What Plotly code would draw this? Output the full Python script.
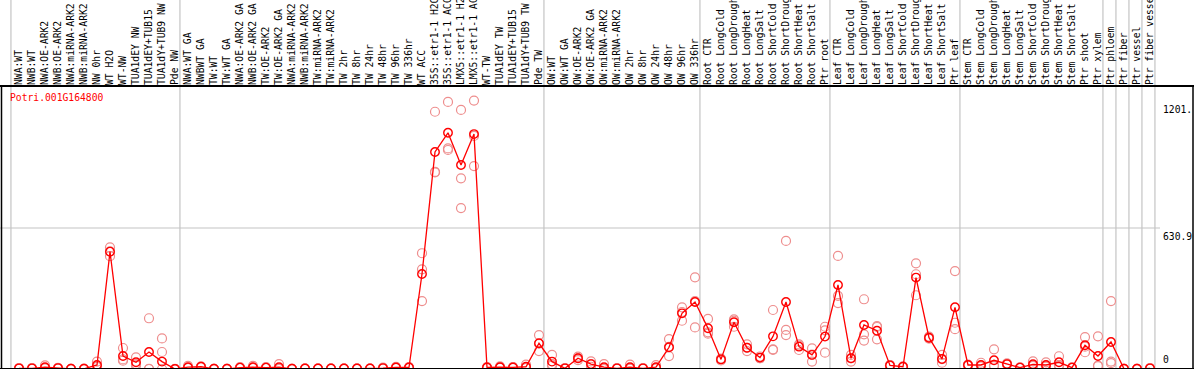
import plotly.graph_objects as go

categories = [
    "NWA:WT", "NWB:WT", "NWA:OE-ARK2", "NWB:OE-ARK2", "NWA:miRNA-ARK2", "NWB:miRNA-ARK2",
    "NW 0hr", "WT H2O", "WT-NW", "TUA1dEY NW", "TUA1dEY+TUB15", "TUA1dY+TUB9 NW", "Pde NW",
    "NWA:WT GA", "NWBWT GA", "TW:WT", "TW:WT GA", "NWA:OE-ARK2 GA", "NWB:OE-ARK2 GA",
    "TW:OE-ARK2", "TW:OE-ARK2 GA", "NWA:miRNA-ARK2", "NWB:miRNA-ARK2", "TW:miRNA-ARK2",
    "TW:miRNA-ARK2", "TW 2hr", "TW 8hr", "TW 24hr", "TW 48hr", "TW 96hr", "TW 336hr",
    "WT ACC", "35S::etr1-1 H2O", "35S::etr1-1 ACC", "LMX5::etr1-1 H2O", "LMX5::etr1-1 ACC",
    "WT-TW", "TUA1dEY TW", "TUA1dEY+TUB15", "TUA1dY+TUB9 TW", "Pde TW",
    "OW:WT", "OW:WT GA", "OW:OE-ARK2", "OW:OE-ARK2 GA", "OW:miRNA-ARK2", "OW:miRNA-ARK2",
    "OW 2hr", "OW 8hr", "OW 24hr", "OW 48hr", "OW 96hr", "OW 336hr",
    "Root CTR", "Root LongCold", "Root LongDrought", "Root LongHeat", "Root LongSalt",
    "Root ShortCold", "Root ShortDrought", "Root ShortHeat", "Root ShortSalt", "Ptr root",
    "Leaf CTR", "Leaf LongCold", "Leaf LongDrought", "Leaf LongHeat", "Leaf LongSalt",
    "Leaf ShortCold", "Leaf ShortDrought", "Leaf ShortHeat", "Leaf ShortSalt", "Ptr leaf",
    "Stem CTR", "Stem LongCold", "Stem LongDrought", "Stem LongHeat", "Stem LongSalt",
    "Stem ShortCold", "Stem ShortDrought", "Stem ShortHeat", "Stem ShortSalt",
    "Ptr shoot", "Ptr xylem", "Ptr phloem", "Ptr fiber", "Ptr vessel", "Ptr fiber vessel",
]

mean_values = [
    3, 3, 8, 4, 1, 1, 18, 525, 58, 30, 76, 33, 0,
    8, 10, 1, 1, 6, 8, 6, 8, 1, 2, 2, 2, 2, 2, 2, 4, 7, 7,
    425, 971, 1057, 913, 1051, 7, 8, 7, 10, 115,
    33, 3, 48, 22, 8, 3, 8, 3, 8, 97, 249, 300,
    182, 43, 209, 95, 51, 146, 300, 100, 63, 145,
    376, 48, 197, 171, 16, 10, 409, 140, 45, 276,
    18, 18, 39, 22, 6, 21, 18, 30, 6, 106, 58, 121, 1, 1, 3,
]

rep1 = [
    3, 2, 16, 5, 1, 1, 33, 544, 94, 52, 227, 137, 0,
    14, 12, 1, 1, 8, 14, 8, 22, 1, 2, 2, 2, 2, 2, 2, 6, 10, 9,
    518, 1151, 1195, 1159, 1201, 9, 12, 8, 20, 152,
    63, 3, 55, 34, 22, 3, 20, 3, 17, 134, 276, 410,
    224, 47, 222, 110, 56, 264, 573, 110, 92, 189,
    506, 63, 312, 192, 18, 12, 473, 145, 63, 438,
    20, 28, 88, 25, 7, 34, 30, 57, 7, 143, 146, 304, 1, 1, 4,
]

rep2 = [
    2, 4, 4, 3, 1, 2, 12, 505, 37, 22, 0, 76, 1,
    5, 9, 1, 1, 5, 5, 5, 2, 1, 2, 2, 2, 2, 2, 2, 3, 5, 6,
    446, 880, 980, 853, 908, 6, 6, 7, 5, 80,
    15, 3, 40, 10, 1, 3, 2, 3, 4, 58, 216, 186,
    164, 38, 189, 80, 48, 88, 175, 85, 33, 173,
    327, 33, 155, 133, 14, 9, 330, 136, 28, 207,
    16, 12, 16, 20, 5, 15, 12, 16, 5, 75, 15, 33, 1, 1, 2,
]

rep3 = [
    4, 3, 4, 4, 1, 0, 9, 526, 43, 16, 1, 0, 0,
    5, 9, 1, 1, 5, 5, 5, 1, 1, 2, 2, 2, 2, 2, 2, 3, 6, 6,
    304, 882, 987, 720, 1043, 6, 6, 6, 5, 113,
    21, 3, 49, 22, 1, 3, 2, 3, 3, 99, 255, 304,
    158, 44, 216, 95, 49, 86, 152, 105, 64, 73,
    295, 48, 127, 188, 16, 9, 424, 139, 44, 178,
    18, 14, 13, 21, 6, 14, 12, 17, 6, 100, 13, 26, 1, 1, 3,
]

gene_id = "Potri.001G164800"
y_tick_values = [1201, 630.9, 0]
y_tick_labels = ["1201.", "630.9", "0"]
group_starts = [0, 13, 41, 53, 63, 73, 84, 85, 86, 87, 88]

FONT = "DejaVu Sans Mono"
W, H = 1194, 370
X0_PX, STEP_PX = 19.0, 13.0
xmin = (0 - X0_PX) / STEP_PX
xmax = (W - X0_PX) / STEP_PX
TOP, BOTTOM = 86, 1
plot_h = H - TOP - BOTTOM
ymax = plot_h * 630.9 / 141.0

n = len(categories)
idx = list(range(n))

fig = go.Figure()

rx, ry = [], []
for rep in (rep1, rep2, rep3):
    rx.extend(idx)
    ry.extend(rep)
fig.add_trace(go.Scatter(
    x=rx, y=ry, mode="markers",
    marker=dict(symbol="circle-open", size=9, color="#ee8e8e", line=dict(width=1.2, color="#ee8e8e")),
    hoverinfo="skip", showlegend=False,
))
fig.add_trace(go.Scatter(
    x=idx, y=mean_values, mode="lines+markers",
    line=dict(color="#ff0000", width=1.3),
    marker=dict(symbol="circle-open", size=8.5, color="#ff0000", line=dict(width=1.4, color="#ff0000")),
    showlegend=False,
))

shapes = []
for g in group_starts:
    shapes.append(dict(type="line", xref="x", yref="paper", x0=g - 0.62, x1=g - 0.62,
                       y0=0, y1=1.5, line=dict(color="#c4c4c4", width=1.2), layer="below"))
shapes.append(dict(type="line", xref="x", yref="y", x0=xmin, x1=(1160 - X0_PX) / STEP_PX,
                   y0=y_tick_values[1], y1=y_tick_values[1],
                   line=dict(color="#c4c4c4", width=1.2), layer="below"))
shapes.append(dict(type="line", xref="paper", yref="paper", x0=0, x1=1, y0=1, y1=1,
                   line=dict(color="black", width=2)))
shapes.append(dict(type="line", xref="paper", yref="y", x0=0, x1=1, y0=0, y1=0,
                   line=dict(color="black", width=2)))
for px in (1.5, 1193):
    shapes.append(dict(type="line", xref="paper", yref="paper", x0=px / W, x1=px / W,
                       y0=0, y1=1, line=dict(color="black", width=1.5)))

annotations = [
    dict(text=gene_id, xref="paper", yref="paper", x=8 / W, y=(H - BOTTOM - 97) / plot_h,
         xanchor="left", yanchor="middle", showarrow=False,
         font=dict(family=FONT, size=9.7, color="#ff0000")),
    dict(text=y_tick_labels[0], xref="paper", yref="y", x=1161 / W, y=y_tick_values[0],
         xanchor="left", yanchor="top", yshift=-1, showarrow=False,
         font=dict(family=FONT, size=9.7, color="black")),
    dict(text=y_tick_labels[1], xref="paper", yref="y", x=1161 / W, y=y_tick_values[1],
         xanchor="left", yanchor="top", yshift=-1, showarrow=False,
         font=dict(family=FONT, size=9.7, color="black")),
    dict(text=y_tick_labels[2], xref="paper", yref="y", x=1161 / W, y=y_tick_values[2],
         xanchor="left", yanchor="bottom", yshift=2, showarrow=False,
         font=dict(family=FONT, size=9.7, color="black")),
]

fig.update_layout(
    width=W, height=H, template="none",
    margin=dict(l=0, r=0, t=TOP, b=BOTTOM, pad=0),
    paper_bgcolor="white", plot_bgcolor="white",
    shapes=shapes, annotations=annotations,
    xaxis=dict(range=[xmin, xmax], side="top", tickmode="array", tickvals=idx, ticktext=categories,
               tickangle=-90, tickfont=dict(family=FONT, size=9.7, color="black"),
               showgrid=False, zeroline=False, showline=False, ticks="", automargin=False),
    yaxis=dict(range=[0, ymax], showgrid=False, zeroline=False, showline=False,
               showticklabels=False, ticks="", automargin=False),
    font=dict(family=FONT),
)

fig.write_html(
    "out.html",
    config={"displayModeBar": False},
    post_script="document.body.style.margin='0';document.body.style.overflow='hidden';",
)
